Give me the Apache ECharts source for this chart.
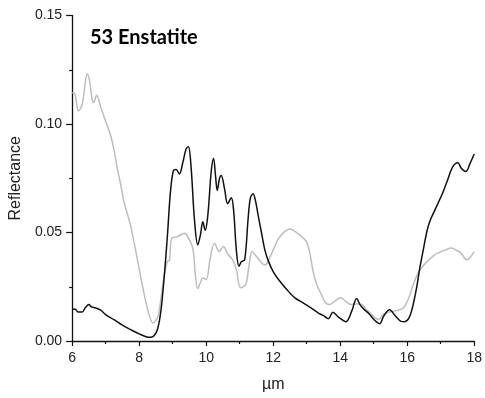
<!DOCTYPE html>
<html><head><meta charset="utf-8">
<script src="https://cdn.jsdelivr.net/npm/echarts@6/dist/echarts.min.js"></script>
<style>html,body{margin:0;padding:0;background:#fff}#c{width:485px;height:398px}</style>
</head><body><div id="c"></div>
<script>
const chartTitle = "53 Enstatite";
const xName = "µm";
const yName = "Reflectance";
const blackX = [6.00,6.08,6.18,6.30,6.40,6.50,6.58,6.70,6.85,7.00,7.25,7.50,7.75,8.00,8.20,8.35,8.45,8.55,8.65,8.75,8.85,8.93,9.02,9.10,9.20,9.30,9.40,9.47,9.55,9.65,9.75,9.83,9.90,9.97,10.05,10.15,10.22,10.28,10.33,10.40,10.45,10.55,10.64,10.75,10.82,10.90,10.98,11.05,11.15,11.25,11.32,11.40,11.48,11.55,11.65,11.75,11.86,12.00,12.20,12.40,12.64,12.94,13.15,13.34,13.49,13.65,13.78,13.95,14.17,14.35,14.49,14.60,14.71,14.86,15.00,15.18,15.30,15.47,15.65,15.80,15.92,16.05,16.15,16.28,16.38,16.48,16.58,16.67,16.87,17.07,17.20,17.35,17.51,17.62,17.75,17.88,18.00];
const blackY = [0.0145,0.0148,0.0134,0.0134,0.0155,0.0168,0.0157,0.0152,0.0142,0.0122,0.0098,0.0073,0.0052,0.0033,0.0020,0.0017,0.0025,0.0055,0.0140,0.0300,0.0500,0.0680,0.0785,0.0790,0.0770,0.0820,0.0885,0.0895,0.0800,0.0560,0.0443,0.0490,0.0550,0.0510,0.0580,0.0780,0.0842,0.0760,0.0694,0.0750,0.0763,0.0700,0.0633,0.0660,0.0600,0.0420,0.0344,0.0365,0.0375,0.0560,0.0660,0.0679,0.0640,0.0580,0.0500,0.0420,0.0367,0.0320,0.0275,0.0238,0.0200,0.0171,0.0150,0.0130,0.0118,0.0103,0.0133,0.0110,0.0089,0.0140,0.0196,0.0165,0.0146,0.0126,0.0100,0.0080,0.0115,0.0144,0.0115,0.0092,0.0089,0.0105,0.0150,0.0245,0.0340,0.0420,0.0500,0.0550,0.0618,0.0687,0.0740,0.0800,0.0821,0.0795,0.0781,0.0820,0.0862];
const grayX = [6.00,6.08,6.19,6.30,6.40,6.45,6.52,6.60,6.64,6.73,6.85,6.96,7.15,7.25,7.35,7.45,7.55,7.74,7.94,8.13,8.28,8.41,8.50,8.58,8.72,8.84,8.90,8.97,9.12,9.36,9.45,9.60,9.68,9.75,9.83,9.90,10.00,10.12,10.25,10.39,10.51,10.65,10.79,10.90,11.03,11.18,11.28,11.37,11.50,11.75,11.90,12.16,12.35,12.50,12.65,12.85,12.99,13.10,13.19,13.30,13.44,13.55,13.68,13.85,14.02,14.15,14.32,14.45,14.61,14.75,14.91,15.05,15.15,15.30,15.50,15.70,15.89,16.05,16.18,16.35,16.58,16.80,16.97,17.15,17.31,17.45,17.61,17.72,17.77,17.85,18.00];
const grayY = [0.1144,0.1140,0.1060,0.1090,0.1200,0.1232,0.1200,0.1110,0.1098,0.1132,0.1080,0.1030,0.0946,0.0880,0.0793,0.0720,0.0640,0.0534,0.0382,0.0230,0.0130,0.0083,0.0095,0.0123,0.0275,0.0367,0.0370,0.0473,0.0480,0.0496,0.0480,0.0428,0.0300,0.0242,0.0270,0.0290,0.0283,0.0380,0.0450,0.0412,0.0435,0.0400,0.0374,0.0330,0.0245,0.0260,0.0350,0.0412,0.0390,0.0350,0.0385,0.0473,0.0505,0.0516,0.0505,0.0481,0.0458,0.0400,0.0321,0.0260,0.0214,0.0180,0.0168,0.0185,0.0199,0.0185,0.0168,0.0170,0.0171,0.0150,0.0126,0.0105,0.0100,0.0125,0.0135,0.0140,0.0153,0.0200,0.0260,0.0320,0.0364,0.0395,0.0409,0.0420,0.0428,0.0420,0.0405,0.0380,0.0374,0.0380,0.0412];
const xTicks = {min: 6, max: 18, step: 2};
const yTicks = {min: 0, max: 0.15, step: 0.05};

const zip = (xs, ys) => xs.map((x, i) => [x, ys[i]]);
const chart = echarts.init(document.getElementById('c'), null, {renderer: 'canvas'});
const axisFont = {fontFamily: 'Arial', fontSize: 14, color: '#222'};
chart.setOption({
  animation: false,
  backgroundColor: '#fff',
  title: {text: chartTitle, left: 85, top: 23, textStyle: {fontFamily: 'Lato', fontWeight: 'bold', fontSize: 20, color: '#000'}},
  grid: {left: 67.5, right: 10, top: 15.5, bottom: 54.5, containLabel: false},
  xAxis: {
    type: 'value', min: xTicks.min, max: xTicks.max, interval: xTicks.step,
    name: xName, nameLocation: 'middle', nameGap: 36,
    nameTextStyle: {fontFamily: 'Arial', fontSize: 16, color: '#222'},
    axisLine: {lineStyle: {color: '#111', width: 1.3}},
    axisTick: {inside: false, length: 5, lineStyle: {color: '#111', width: 1.2}},
    minorTick: {show: true, splitNumber: 2, length: 3, lineStyle: {color: '#111', width: 1.2}},
    axisLabel: Object.assign({margin: 10}, axisFont),
    splitLine: {show: false}
  },
  yAxis: {
    type: 'value', min: yTicks.min, max: yTicks.max, interval: yTicks.step,
    name: yName, nameLocation: 'middle', nameGap: 44, nameRotate: 90,
    nameTextStyle: {fontFamily: 'Arial', fontSize: 16, color: '#222'},
    axisLine: {show: true, lineStyle: {color: '#111', width: 1.3}},
    axisTick: {show: true, inside: false, length: 6, lineStyle: {color: '#111', width: 1.2}},
    minorTick: {show: true, splitNumber: 2, length: 3, lineStyle: {color: '#111', width: 1.2}},
    axisLabel: Object.assign({margin: 10, formatter: v => v.toFixed(2)}, axisFont),
    splitLine: {show: false}
  },
  series: [
    {type: 'line', data: zip(grayX, grayY), showSymbol: false, smooth: 0.35, lineStyle: {color: '#bdbdbd', width: 1.5}, z: 2},
    {type: 'line', data: zip(blackX, blackY), showSymbol: false, smooth: 0.35, lineStyle: {color: '#111', width: 1.5}, z: 3}
  ]
});
</script></body></html>
